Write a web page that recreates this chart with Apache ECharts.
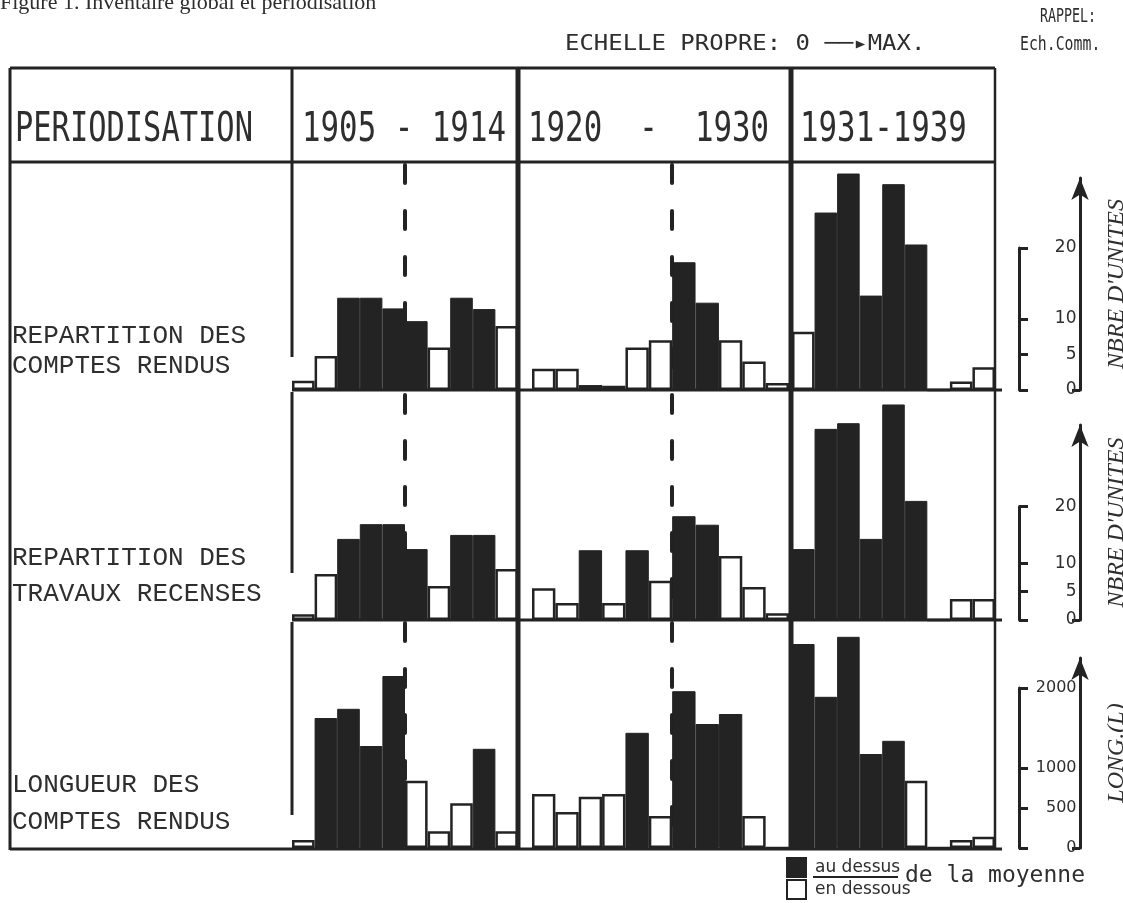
<!DOCTYPE html>
<html>
<head>
<meta charset="utf-8">
<script src="https://cdn.jsdelivr.net/npm/echarts@6/dist/echarts.min.js"></script>
<style>
  html, body { margin: 0; padding: 0; background: #fff; }
  #chart { width: 1123px; height: 903px; }
</style>
</head>
<body>
<div id="chart"></div>
<script>
// periods and years (one bar per year)
const periods = ['1905 - 1914', '1920  -  1930', '1931-1939'];
const years1 = ['1905', '1906', '1907', '1908', '1909', '1910', '1911', '1912', '1913', '1914'];
const years2 = ['1920', '1921', '1922', '1923', '1924', '1925', '1926', '1927', '1928', '1929', '1930'];
const years3 = ['1931', '1932', '1933', '1934', '1935', '1936', '1937', '1938', '1939'];

const rowLabels = ['REPARTITION DES\nCOMPTES RENDUS', 'REPARTITION DES\nTRAVAUX RECENSES', 'LONGUEUR DES\nCOMPTES RENDUS'];
const unitNames = ["NBRE D'UNITES", "NBRE D'UNITES", 'LONG.(L)'];

// repartition des comptes rendus (nbre d'unites)
const comptes1 = [1.3, 4.8, 13, 13, 11.5, 9.7, 6, 13, 11.4, 9];
const comptes2 = [3, 3, 0.7, 0.6, 6, 7, 18, 12.3, 7, 4, 1];
const comptes3 = [8.2, 25, 30.5, 13.3, 29, 20.5, 0, 1.2, 3.2];
const comptesDessus1 = [0, 0, 1, 1, 1, 1, 0, 1, 1, 0];
const comptesDessus2 = [0, 0, 0, 0, 0, 0, 1, 1, 0, 0, 0];
const comptesDessus3 = [0, 1, 1, 1, 1, 1, 0, 0, 0];

// repartition des travaux recenses (nbre d'unites)
const travaux1 = [1, 8.1, 14.3, 16.9, 16.9, 12.5, 6, 15, 15, 9];
const travaux2 = [5.6, 3, 12.3, 3, 12.3, 6.9, 18.3, 16.8, 11.3, 5.8, 1.2];
const travaux3 = [12.5, 33.7, 34.7, 14.3, 38, 21, 0, 3.7, 3.7];
const travauxDessus1 = [0, 0, 1, 1, 1, 1, 0, 1, 1, 0];
const travauxDessus2 = [0, 0, 1, 0, 1, 0, 1, 1, 0, 0, 0];
const travauxDessus3 = [1, 1, 1, 1, 1, 1, 0, 0, 0];

// longueur des comptes rendus (L)
const longueur1 = [100, 1625, 1740, 1275, 2150, 840, 210, 560, 1240, 210];
const longueur2 = [675, 450, 640, 675, 1440, 400, 1960, 1550, 1675, 400, 0];
const longueur3 = [2550, 1890, 2640, 1175, 1340, 840, 0, 100, 140];
const longueurDessus1 = [0, 1, 1, 1, 1, 0, 0, 0, 1, 0];
const longueurDessus2 = [0, 0, 0, 0, 1, 0, 1, 1, 1, 0, 0];
const longueurDessus3 = [1, 1, 1, 1, 1, 0, 0, 0, 0];

// echelle commune (rappel)
const commTicks = [[0, 5, 10, 20], [0, 5, 10, 20], [0, 500, 1000, 2000]];
const rowMax = [31.7, 40.2, 2825];
// number of years before the dashed mid line
const midIndex = [5, 6, null];

const yearsList = [years1, years2, years3];
const rowValues = [[comptes1, comptes2, comptes3], [travaux1, travaux2, travaux3], [longueur1, longueur2, longueur3]];
const rowDessus = [[comptesDessus1, comptesDessus2, comptesDessus3], [travauxDessus1, travauxDessus2, travauxDessus3], [longueurDessus1, longueurDessus2, longueurDessus3]];

// layout
const ink = '#232323';
const textInk = '#2e2e2e';
const rowTop = [165, 392, 622];
const rowBase = [390, 620, 848];
const arrowTop = [178, 425, 658];
const panelX = [[292, 226], [532, 257], [792, 203]];
const labelTop = [321, 540, 767];
const labelLH = [30, 36, 37];
const valueFont = [17, 17, 16];

const grids = [];
const xAxes = [];
const yAxes = [];
const series = [];

function addGrid(g) {
  grids.push(g);
  return grids.length - 1;
}

rowValues.forEach((panels, r) => {
  const h = rowBase[r] - rowTop[r];
  const k = h / rowMax[r];

  panels.forEach((vals, p) => {
    const gi = addGrid({ left: panelX[p][0], width: panelX[p][1], top: rowTop[r], height: h });
    xAxes.push({ gridIndex: gi, type: 'category', data: yearsList[p], show: false });
    const xi = xAxes.length - 1;
    yAxes.push({ gridIndex: gi, type: 'value', min: 0, max: rowMax[r], show: false });
    const yi = yAxes.length - 1;
    const dessus = rowDessus[r][p];
    series.push({
      name: 'au dessus', type: 'bar', xAxisIndex: xi, yAxisIndex: yi, zlevel: 1,
      barCategoryGap: '0%', barGap: '-100%',
      data: vals.map((v, i) => dessus[i] ? v : '-'),
      itemStyle: { color: ink, borderColor: ink, borderWidth: 1 }
    });
    series.push({
      name: 'en dessous', type: 'bar', xAxisIndex: xi, yAxisIndex: yi, zlevel: 1,
      barCategoryGap: '0%', barGap: '-100%',
      data: vals.map((v, i) => dessus[i] ? '-' : v),
      itemStyle: { color: '#fff', borderColor: ink, borderWidth: 2.5 }
    });

    // dashed mid line, on a hidden year-count axis, under the bars
    const mid = midIndex[p];
    if (mid != null) {
      xAxes.push({ gridIndex: gi, type: 'value', min: 0, max: yearsList[p].length, show: false });
      series.push({
        type: 'line', xAxisIndex: xAxes.length - 1, yAxisIndex: yi, data: [], silent: true, zlevel: 0,
        markLine: {
          silent: true, symbol: ['none', 'none'], label: { show: false },
          lineStyle: { color: ink, width: 4, type: [18, 28], dashOffset: 23, cap: 'round' },
          emphasis: { disabled: true },
          data: [{ xAxis: mid }]
        }
      });
    }
  });

  // bracket of the common scale
  const top = commTicks[r][3];
  const bi = addGrid({ left: 1019, width: 10, top: rowBase[r] - top * k, height: top * k });
  xAxes.push({ gridIndex: bi, type: 'value', show: false });
  yAxes.push({
    gridIndex: bi, type: 'value', min: 0, max: top, position: 'left',
    axisLine: { show: true, lineStyle: { color: ink, width: 3 } },
    axisTick: { show: true, inside: true, length: 9, customValues: commTicks[r], lineStyle: { color: ink, width: 3 } },
    axisLabel: { show: false }, splitLine: { show: false }
  });

  // arrow axis with values and unit name
  const ah = rowBase[r] - arrowTop[r];
  const ai = addGrid({ left: 1080, width: 10, top: arrowTop[r], height: ah });
  xAxes.push({ gridIndex: ai, type: 'value', show: false });
  yAxes.push({
    gridIndex: ai, type: 'value', min: 0, max: ah / k, position: 'right',
    name: unitNames[r], nameLocation: 'middle', nameRotate: 90, nameGap: 22,
    nameTextStyle: { fontFamily: 'Liberation Serif', fontStyle: 'italic', fontSize: 24, color: textInk },
    axisLine: { show: true, symbol: ['none', 'arrow'], symbolSize: [13, 22], lineStyle: { color: ink, width: 3 } },
    axisTick: { show: true, inside: true, length: 8, customValues: [0], lineStyle: { color: ink, width: 3 } },
    axisLabel: {
      show: true, inside: true, customValues: commTicks[r], margin: 6,
      formatter: (v) => String(v),
      fontFamily: 'DejaVu Sans', fontSize: valueFont[r], color: textInk
    },
    splitLine: { show: false }
  });
});

function line(x1, y1, x2, y2, w) {
  return { type: 'line', zlevel: 1, z: 100, shape: { x1, y1, x2, y2 }, style: { stroke: ink, lineWidth: w } };
}

function label(text, x, y, font, scaleX) {
  return {
    type: 'text', zlevel: 1, z: 100, x, y, scaleX: scaleX || 1,
    style: { text, font, fill: textInk, align: 'left', verticalAlign: 'middle' }
  };
}

const graphics = [
  // table frame
  line(10, 68, 995, 68, 3),
  line(10, 162, 995, 162, 3),
  line(10, 68, 10, 850, 3),
  line(10, 849, 1002, 849, 3),
  line(292, 68, 292, 357, 3),
  line(292, 392, 292, 573, 3),
  line(292, 622, 292, 815, 3),
  line(518, 68, 518, 850, 5),
  line(791, 68, 791, 850, 5),
  line(995, 68, 995, 850, 2.5),
  line(292, 390, 1002, 390, 3),
  line(292, 620, 1002, 620, 3),
  // legend fraction bar
  line(813, 877, 898, 877, 2),
  label('Figure 1. Inventaire global et periodisation', 0, 3, '22px "Liberation Serif"', 1),
  label('PERIODISATION', 15, 131, '40px "DejaVu Sans Mono"', 0.76),
  label(periods[0], 302, 131, '40px "DejaVu Sans Mono"', 0.77),
  label(periods[1], 528, 131, '40px "DejaVu Sans Mono"', 0.77),
  label(periods[2], 800, 131, '40px "DejaVu Sans Mono"', 0.77),
  label('ECHELLE PROPRE: 0 \u2500\u2500\u25B8MAX.', 565, 45, '21px "DejaVu Sans Mono"', 1.14),
  label('RAPPEL:', 1040, 17, '19px "DejaVu Sans Mono"', 0.7),
  label('Ech.Comm.', 1020, 45, '19px "DejaVu Sans Mono"', 0.78),
  label('de la moyenne', 905, 876, '23px "DejaVu Sans Mono"', 1)
];

rowLabels.forEach((t, r) => {
  graphics.push({
    type: 'text', zlevel: 1, z: 100, x: 12, y: labelTop[r],
    style: { text: t, font: '26px "Liberation Mono"', fill: textInk, lineHeight: labelLH[r], align: 'left', verticalAlign: 'top' }
  });
});

const chart = echarts.init(document.getElementById('chart'));
chart.setOption({
  animation: false,
  backgroundColor: '#fff',
  grid: grids,
  xAxis: xAxes,
  yAxis: yAxes,
  series: series,
  legend: {
    data: ['au dessus', 'en dessous'],
    orient: 'vertical', left: 786, top: 857, padding: 0,
    icon: 'rect', itemWidth: 19, itemHeight: 19, itemGap: 1,
    selectedMode: false,
    textStyle: { fontFamily: 'DejaVu Sans', fontSize: 17, color: textInk, padding: [0, 0, 0, 4] }
  },
  graphic: graphics
});
</script>
</body>
</html>
